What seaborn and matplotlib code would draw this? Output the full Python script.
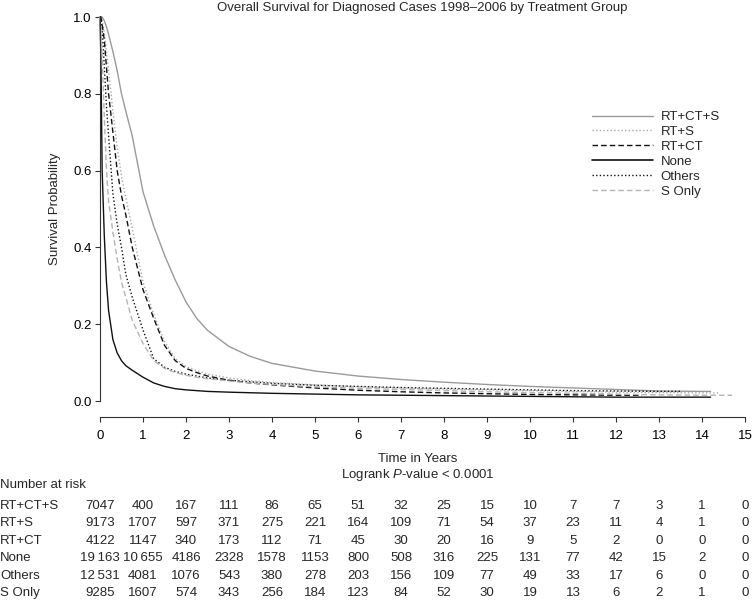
import numpy as np
import pandas as pd
import matplotlib
matplotlib.use("Agg")
import matplotlib.pyplot as plt
import matplotlib.transforms as mtransforms
import seaborn as sns

# ── Survival curves ────────────────────────────────────────────────
TIME = [0, 0.02, 0.05, 0.1, 0.15, 0.2, 0.3, 0.4, 0.5, 0.6, 0.75, 1.0, 1.25,
        1.5, 1.75, 2.0, 2.25, 2.5, 3, 3.5, 4, 5, 6, 7, 8, 9, 10, 11, 12, 13, 14]

GROUPS = ["RT+CT+S", "RT+S", "RT+CT", "None", "Others", "S Only"]

SURV_RTCTS = [1.0, 1.0, 1.0, 0.99, 0.975, 0.955, 0.91, 0.86, 0.80, 0.755, 0.69,
              0.545, 0.455, 0.38, 0.315, 0.258, 0.215, 0.184, 0.142, 0.116,
              0.098, 0.078, 0.065, 0.056, 0.049, 0.043, 0.038, 0.034, 0.030,
              0.026, 0.025]
SURV_RTS = [1.0, 1.0, 0.99, 0.96, 0.91, 0.86, 0.755, 0.66, 0.585, 0.53, 0.45,
            0.31, 0.225, 0.155, 0.11, 0.09, 0.079, 0.07, 0.06, 0.053, 0.048,
            0.042, 0.037, 0.034, 0.031, 0.029, 0.027, 0.025, 0.023, 0.022,
            0.021]
SURV_RTCT = [1.0, 1.0, 0.98, 0.94, 0.87, 0.80, 0.70, 0.60, 0.535, 0.485, 0.40,
             0.29, 0.215, 0.145, 0.105, 0.085, 0.074, 0.065, 0.054, 0.047,
             0.042, 0.034, 0.028, 0.024, 0.021, 0.019, 0.017, 0.016, 0.015,
             np.nan, np.nan]
SURV_NONE = [1.0, 0.90, 0.60, 0.43, 0.31, 0.235, 0.16, 0.125, 0.105, 0.092,
             0.08, 0.062, 0.047, 0.038, 0.032, 0.029, 0.027, 0.025, 0.023,
             0.0215, 0.020, 0.018, 0.016, 0.015, 0.014, 0.013, 0.012, 0.011,
             0.010, 0.010, 0.010]
SURV_OTHERS = [1.0, 0.995, 0.97, 0.87, 0.77, 0.69, 0.54, 0.46, 0.40, 0.33,
               0.27, 0.185, 0.11, 0.088, 0.077, 0.070, 0.065, 0.060, 0.054,
               0.050, 0.046, 0.041, 0.038, 0.035, 0.033, 0.031, 0.029, 0.027,
               0.026, 0.025, np.nan]
SURV_SONLY = [1.0, 0.97, 0.90, 0.74, 0.60, 0.52, 0.44, 0.37, 0.31, 0.27, 0.21,
              0.15, 0.105, 0.085, 0.074, 0.067, 0.062, 0.058, 0.052, 0.047,
              0.043, 0.037, 0.033, 0.030, 0.027, 0.024, 0.022, 0.020, 0.018,
              0.016, 0.015]

# last follow-up time of each curve
END_TIME = [14.2, 14.4, 12.6, 14.2, 13.5, 14.7]

# ── Number at risk table ───────────────────────────────────────────
RISK_YEARS = list(range(16))
RISK_RTCTS = [7047, 400, 167, 111, 86, 65, 51, 32, 25, 15, 10, 7, 7, 3, 1, 0]
RISK_RTS = [9173, 1707, 597, 371, 275, 221, 164, 109, 71, 54, 37, 23, 11, 4, 1, 0]
RISK_RTCT = [4122, 1147, 340, 173, 112, 71, 45, 30, 20, 16, 9, 5, 2, 0, 0, 0]
RISK_NONE = [19163, 10655, 4186, 2328, 1578, 1153, 800, 508, 316, 225, 131, 77, 42, 15, 2, 0]
RISK_OTHERS = [12531, 4081, 1076, 543, 380, 278, 203, 156, 109, 77, 49, 33, 17, 6, 0, 0]
RISK_SONLY = [9285, 1607, 574, 343, 256, 184, 123, 84, 52, 30, 19, 13, 6, 2, 1, 0]

COLORS = {"RT+CT+S": "#9a9a9a", "RT+S": "#a8a8a8", "RT+CT": "#111111",
          "None": "#111111", "Others": "#111111", "S Only": "#b4b4b4"}
DASHES = {"RT+CT+S": "", "RT+S": (1, 1.6), "RT+CT": (4, 2.2),
          "None": "", "Others": (1, 1.6), "S Only": (4, 2.2)}

surv_all = [SURV_RTCTS, SURV_RTS, SURV_RTCT, SURV_NONE, SURV_OTHERS, SURV_SONLY]
risk_all = [RISK_RTCTS, RISK_RTS, RISK_RTCT, RISK_NONE, RISK_OTHERS, RISK_SONLY]

rows = []
for g, surv, t_end in zip(GROUPS, surv_all, END_TIME):
    last = None
    for t, s in zip(TIME, surv):
        if not np.isnan(s):
            rows.append((g, t, s))
            last = s
    rows.append((g, t_end, last))
df = pd.DataFrame(rows, columns=["group", "time", "surv"])

sns.set_style("ticks")
plt.rcParams["font.family"] = ["Liberation Sans", "DejaVu Sans"]
plt.rcParams["mathtext.fontset"] = "custom"
plt.rcParams["mathtext.it"] = "Liberation Sans:italic"
plt.rcParams["mathtext.rm"] = "Liberation Sans"
FS = 9.5

fig = plt.figure(figsize=(7.53, 6.0), dpi=100)
W, H = 753, 600
ax = fig.add_axes([100 / W, 1 - 401 / H, 645 / W, 384 / H])

sns.lineplot(data=df, x="time", y="surv", hue="group", style="group",
             hue_order=GROUPS, style_order=GROUPS, palette=COLORS,
             dashes=DASHES, estimator=None, sort=False, lw=1.0,
             clip_on=False, ax=ax)
# the "None" curve is drawn a little heavier
for line in ax.lines:
    if line.get_label() == "None":
        line.set_linewidth(1.2)

handles, labels = ax.get_legend_handles_labels()
ax.get_legend().remove()
ax.legend(handles, labels, loc="upper left",
          bbox_to_anchor=(592 / W, 1 - 111 / H), bbox_transform=fig.transFigure,
          frameon=False, fontsize=FS, handlelength=4.6, handletextpad=0.6,
          labelspacing=0.2, borderpad=0, borderaxespad=0)

ax.set_xlim(0, 15)
ax.set_ylim(0, 1)
ax.set_xticks(range(16))
ax.set_yticks(np.arange(0, 1.01, 0.2))
ax.set_yticklabels([f"{v:.1f}" for v in np.arange(0, 1.01, 0.2)])
ax.tick_params(axis="both", labelsize=FS, length=3.6, width=0.8,
               colors="#333333", labelcolor="black")
ax.tick_params(axis="x", pad=5.5)
ax.tick_params(axis="y", pad=2.2)
sns.despine(ax=ax)
ax.spines["bottom"].set_position(("outward", 11.5))
ax.spines["bottom"].set_bounds(0, 15)
ax.spines["left"].set_bounds(0, 1)
for side in ["bottom", "left"]:
    ax.spines[side].set_linewidth(0.8)
    ax.spines[side].set_color("#333333")
ax.set_xlabel("")
ax.set_ylabel("Survival Probability", fontsize=FS)
ax.yaxis.set_label_coords(-0.061, 0.5)

fig.text(422 / W, 1 - 8 / H,
         "Overall Survival for Diagnosed Cases 1998\u20132006 by Treatment Group",
         ha="center", va="center", fontsize=FS)
fig.text(418 / W, 1 - 459 / H, "Time in Years", ha="center", va="center", fontsize=FS)
fig.text(418 / W, 1 - 475 / H, "Logrank $P$-value < 0.0001",
         ha="center", va="center", fontsize=FS)

# ── Risk table ─────────────────────────────────────────────────────
fig.text(0, 1 - 485 / H, "Number at risk", ha="left", va="center", fontsize=FS)
trans = mtransforms.blended_transform_factory(ax.transData, fig.transFigure)
row_y = [506, 523, 541, 558, 576, 593]
for g, risk, y in zip(GROUPS, risk_all, row_y):
    fig.text(0, 1 - y / H, g, ha="left", va="center", fontsize=FS)
    for yr, n in zip(RISK_YEARS, risk):
        label = f"{n:,}".replace(",", "\u2009") if n >= 10000 else str(n)
        ax.text(yr, 1 - y / H, label, transform=trans, ha="center",
                va="center", fontsize=FS, clip_on=False)

fig.savefig("out.png", dpi=100)
